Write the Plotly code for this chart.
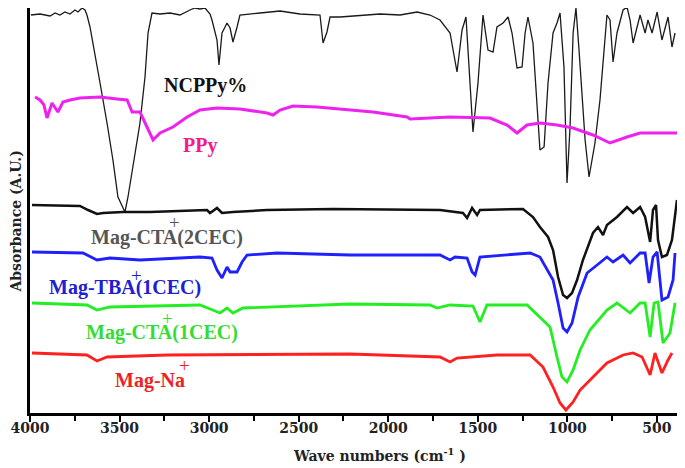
import plotly.graph_objects as go

# wavenumbers (cm-1) and absorbance (arbitrary offset units)
wn_ncppy = [3995, 3944, 3888, 3860, 3833, 3805, 3777, 3749, 3732, 3710, 3693, 3682, 3665, 3637, 3609,
            3570, 3537, 3509, 3486, 3470, 3453, 3425, 3386, 3358, 3341, 3319, 3274, 3218, 3163, 3107,
            3079, 3051, 3023, 2995, 2984, 2956, 2945, 2928, 2900, 2883, 2867, 2844, 2828, 2716, 2604,
            2493, 2381, 2364, 2342, 2325, 2269, 2046, 1934, 1839, 1767, 1711, 1655, 1616, 1588, 1566,
            1543, 1527, 1499, 1471, 1443, 1415, 1393, 1359, 1331, 1309, 1281, 1253, 1236, 1220, 1192,
            1169, 1153, 1130, 1108, 1080, 1058, 1041, 1019, 1002, 985, 968, 952, 935, 918, 901,
            879, 846, 818, 790, 779, 762, 745, 723, 689, 667, 650, 633, 611, 594, 566,
            550, 527, 499, 472, 455, 438, 416, 399]
ab_ncppy = [398, 399, 397, 400, 398, 401, 399, 403, 401, 405, 403, 398, 386, 356, 330,
            290, 253, 216, 208, 201, 216, 246, 290, 336, 380, 400, 399, 400, 398, 403,
            405, 404, 405, 399, 393, 373, 348, 380, 390, 385, 371, 386, 398, 400, 402,
            399, 398, 370, 381, 396, 396, 399, 398, 401, 398, 393, 380, 341, 383, 396,
            330, 281, 330, 398, 363, 361, 386, 390, 396, 380, 345, 346, 380, 396, 370,
            310, 263, 266, 330, 380, 390, 400, 346, 230, 286, 380, 405, 363, 313, 273,
            236, 270, 313, 370, 398, 393, 351, 380, 403, 406, 393, 370, 386, 398, 380,
            393, 380, 401, 373, 386, 396, 366, 380]

wn_ppy = [3972, 3944, 3922, 3905, 3877, 3860, 3844, 3816, 3777, 3721, 3609, 3514, 3458, 3430, 3386,
          3347, 3313, 3274, 3202, 3123, 3051, 2956, 2828, 2677, 2643, 2604, 2532, 2398, 2269, 2085,
          1895, 1878, 1655, 1432, 1337, 1281, 1225, 1153, 1058, 968, 857, 762, 667, 594, 388]
ab_ppy = [316, 313, 308, 295, 310, 305, 301, 311, 313, 315, 316, 314, 313, 301, 301,
          286, 273, 280, 286, 296, 303, 305, 304, 300, 298, 303, 307, 306, 304, 301,
          296, 294, 296, 295, 288, 280, 288, 290, 288, 285, 278, 270, 276, 280, 280]

wn_cta2 = [3989, 3721, 3676, 3626, 3592, 3481, 3330, 3012, 2995, 2956, 2928, 2867, 2677, 2308, 1711,
           1583, 1560, 1532, 1504, 1488, 1248, 1192, 1153, 1108, 1080, 1052, 1024, 1002, 974, 946,
           913, 857, 829, 801, 779, 723, 667, 633, 594, 566, 538, 522, 505, 494, 472,
           444, 416, 399, 388]
ab_cta2 = [208, 207, 203, 199, 200, 201, 201, 203, 200, 205, 200, 201, 203, 204, 203,
           200, 195, 205, 198, 203, 204, 196, 186, 176, 163, 136, 118, 115, 120, 133,
           153, 180, 186, 178, 188, 196, 206, 200, 206, 196, 171, 203, 208, 173, 156,
           158, 173, 196, 213]

wn_tba = [3989, 3704, 3626, 3553, 3386, 3051, 2984, 2956, 2928, 2900, 2883, 2844, 2816, 2788, 2621,
          2213, 1711, 1655, 1627, 1560, 1532, 1515, 1488, 1208, 1153, 1114, 1080, 1052, 1024, 1002,
          974, 940, 890, 834, 779, 745, 689, 650, 594, 566, 544, 522, 499, 472, 438,
          410, 399]
ab_tba = [161, 160, 153, 155, 153, 156, 155, 143, 135, 146, 141, 141, 151, 158, 160,
          158, 158, 153, 156, 155, 141, 138, 156, 160, 156, 143, 133, 110, 85, 81,
          90, 116, 140, 148, 156, 151, 158, 150, 160, 160, 130, 156, 161, 113, 116,
          133, 160]

wn_cta1 = [3989, 3682, 3626, 3553, 3051, 2984, 2939, 2900, 2867, 2811, 2213, 1767, 1728, 1655, 1527,
           1488, 1449, 1225, 1153, 1097, 1058, 1030, 1002, 968, 929, 874, 779, 723, 650, 594,
           566, 538, 516, 494, 466, 427, 399]
ab_cta1 = [110, 108, 103, 106, 108, 103, 100, 105, 100, 105, 109, 108, 105, 108, 107,
           91, 108, 108, 96, 86, 56, 36, 31, 43, 63, 83, 103, 110, 100, 110,
           110, 76, 110, 111, 70, 80, 110]

wn_na = [3989, 3682, 3626, 3570, 3235, 2213, 1711, 1655, 1616, 1393, 1208, 1136, 1080, 1041, 1008,
         968, 929, 857, 779, 689, 633, 583, 538, 511, 472, 438, 416]
ab_na = [60, 58, 52, 56, 58, 59, 56, 51, 55, 58, 58, 46, 26, 10, 3,
         11, 23, 36, 50, 58, 60, 56, 38, 60, 40, 53, 60]

x_ticks = [4000, 3500, 3000, 2500, 2000, 1500, 1000, 500]

serif = "Liberation Serif, Times New Roman, serif"
wide = "DejaVu Serif, serif"

series = [
    (wn_ncppy, ab_ncppy, "#1a1a1a", 1.3),
    (wn_ppy, ab_ppy, "#ee22ee", 3),
    (wn_cta2, ab_cta2, "#111111", 2.5),
    (wn_tba, ab_tba, "#1f1fff", 2.8),
    (wn_cta1, ab_cta1, "#22ee22", 2.8),
    (wn_na, ab_na, "#ff2020", 2.8),
]

fig = go.Figure()
for xs, ys, col, w in series:
    fig.add_trace(go.Scatter(x=xs, y=ys, mode="lines",
                             line=dict(color=col, width=w), showlegend=False))

# sample names, with the "+" drawn over the cation's last letter as in the figure
labels = [
    ("NCPPy%", 3023, 328, "#111111"),
    ("PPy", 3051, 268, "#f21a8c"),
    ("Mag-CTA(2CEC)", 3235, 176, "#555555"),
    ("Mag-TBA(1CEC)", 3470, 126, "#2020d0"),
    ("Mag-CTA(1CEC)", 3263, 81, "#33dd33"),
    ("Mag-Na", 3330, 33, "#ee2222"),
]
for txt, x, y, col in labels:
    fig.add_annotation(x=x, y=y, text="<b>" + txt + "</b>", showarrow=False,
                       font=dict(family=serif, size=20, color=col))

pluses = [
    (3196, 191, "#555555"),
    (3403, 138, "#2020d0"),
    (3235, 95, "#33dd33"),
    (3135, 48, "#ee2222"),
]
for x, y, col in pluses:
    fig.add_annotation(x=x, y=y, text="+", showarrow=False,
                       font=dict(family=serif, size=19, color=col))

# axis titles placed by hand so the frame keeps its size
fig.add_annotation(xref="paper", yref="paper", x=0.54, y=-0.104,
                   xanchor="center", yanchor="middle",
                   text="<b>Wave numbers (cm<sup>-1</sup> )</b>", showarrow=False,
                   font=dict(family=wide, size=14, color="#222222"))
fig.add_annotation(xref="paper", yref="paper", x=-0.022, y=0.472, textangle=-90,
                   xanchor="center", yanchor="middle",
                   text="<b>Absorbance (A.U.)</b>", showarrow=False,
                   font=dict(family=wide, size=14, color="#222222"))

fig.update_xaxes(range=[4000, 388], tickvals=x_ticks, ticks="outside", ticklen=6,
                 tickwidth=2, tickcolor="black", ticklabelstandoff=-6,
                 minor=dict(dtick=250, tick0=0, ticks="outside", ticklen=5, tickwidth=2),
                 showline=True, linewidth=2.5, linecolor="black", mirror=True,
                 showgrid=False, zeroline=False, automargin=False,
                 tickfont=dict(family=wide, size=14, color="#222222", weight="bold"))
fig.update_yaxes(range=[0, 405], showticklabels=False, ticks="",
                 showline=True, linewidth=2.5, linecolor="black", mirror=True,
                 showgrid=False, zeroline=False, automargin=False)

# the page body has an 8 px margin, so the figure is sized to sit inside the window
fig.update_layout(width=677, height=460, margin=dict(l=22, r=8, t=0, b=55),
                  plot_bgcolor="white", paper_bgcolor="white")

fig.write_html("out.html")
